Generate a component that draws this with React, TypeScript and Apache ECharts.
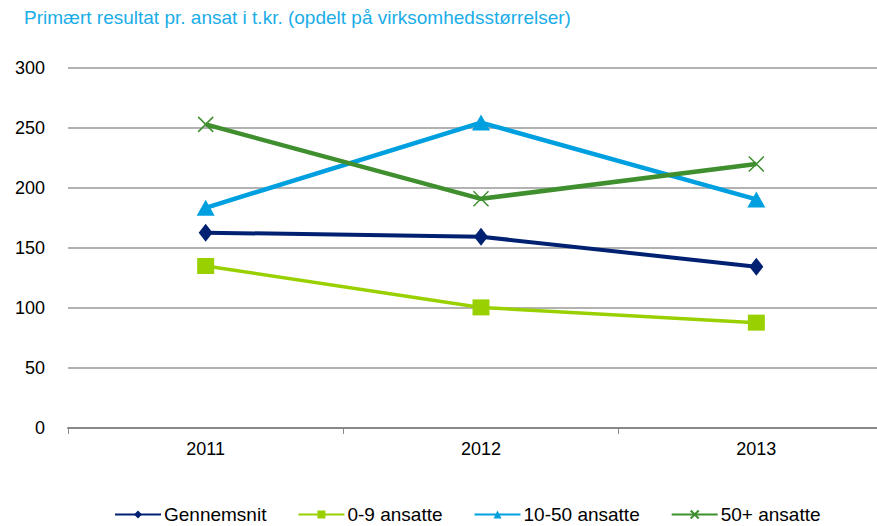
import React, { useEffect, useRef } from "react";
import * as echarts from "echarts";

const TITLE = "Primært resultat pr. ansat i t.kr. (opdelt på virksomhedsstørrelser)";
const years = ["2011", "2012", "2013"];
const seriesNames = ["Gennemsnit", "0-9 ansatte", "10-50 ansatte", "50+ ansatte"];
const gennemsnit = [162.8, 159.4, 134.4];
const small = [135, 100.5, 87.8];
const medium = [183.5, 254.5, 190.5];
const large = [253, 191, 220];
const colors = ["#002171", "#99D100", "#00A0E0", "#3F8F2F"];

const FONT = "'Liberation Sans', Arial, sans-serif";

export default function App() {
  const ref = useRef<HTMLDivElement>(null);
  useEffect(() => {
    document.body.style.margin = "0";
    const chart = echarts.init(ref.current!, null, { renderer: "svg" });
    const crossPath = "path://M0,0L10,10M10,0L0,10";
    const mk = (i: number, data: number[], symbol: string, size: any, width: number, extra: any = {}) => ({
      name: seriesNames[i],
      type: "line",
      data,
      symbol,
      symbolSize: size,
      showSymbol: true,
      lineStyle: { color: colors[i], width },
      itemStyle: { color: colors[i], ...extra },
      z: 2 + i,
    });
    chart.setOption({
      animation: false,
      backgroundColor: "#ffffff",
      title: {
        text: TITLE,
        left: 24,
        top: 8,
        padding: 0,
        textStyle: { color: "#1AADE8", fontSize: 19, fontWeight: "normal", fontFamily: FONT },
      },
      legend: {
        left: 114,
        top: 505,
        padding: 0,
        itemWidth: 46,
        itemHeight: 10,
        itemGap: 31,
        textStyle: { fontSize: 19, color: "#000", fontFamily: FONT, padding: [0, 0, 0, -2] },
        data: seriesNames,
      },
      grid: { left: 68, top: 68, width: 826, height: 360, containLabel: false },
      xAxis: {
        type: "category",
        data: years,
        boundaryGap: true,
        axisLine: { lineStyle: { color: "#888", width: 2 } },
        axisTick: { show: true, length: 6, lineStyle: { color: "#888", width: 1 } },
        axisLabel: { color: "#000", fontSize: 18, fontFamily: FONT, margin: 12 },
      },
      yAxis: {
        type: "value",
        min: 0,
        max: 300,
        interval: 50,
        axisLine: { show: false },
        axisTick: { show: false },
        axisLabel: { color: "#000", fontSize: 18, fontFamily: FONT, margin: 23 },
        splitLine: { lineStyle: { color: "#999", width: 1.5 } },
      },
      series: [
        mk(0, gennemsnit, "diamond", [14, 18], 4),
        mk(1, small, "rect", [17, 16], 3.5),
        mk(2, medium, "triangle", [18, 16], 4.5),
        mk(3, large, crossPath, 15, 4.5, { borderColor: colors[3], borderWidth: 1.5 }),
      ],
    });
    return () => chart.dispose();
  }, []);
  return (
    <div style={{ width: 877, height: 526, overflow: "hidden", position: "relative" }}>
      <div ref={ref} style={{ width: 895, height: 526 }} />
    </div>
  );
}
